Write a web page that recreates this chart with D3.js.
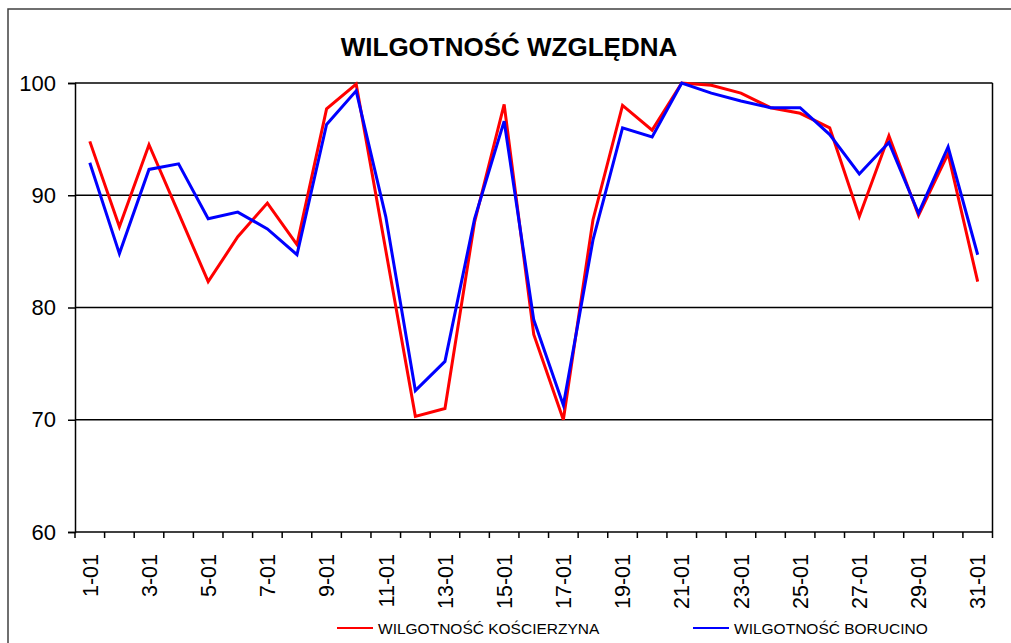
<!DOCTYPE html>
<html>
<head>
<meta charset="utf-8">
<script src="https://cdn.jsdelivr.net/npm/d3@7"></script>
<style>
  body { margin: 0; background: #fff; }
  svg { display: block; font-family: "Liberation Sans", Arial, sans-serif; }
</style>
</head>
<body>
<svg id="chart" width="1011" height="643"></svg>
<script>
// dane: wilgotnosc wzgledna, styczen
const days = ["1-01","2-01","3-01","4-01","5-01","6-01","7-01","8-01","9-01","10-01",
  "11-01","12-01","13-01","14-01","15-01","16-01","17-01","18-01","19-01","20-01",
  "21-01","22-01","23-01","24-01","25-01","26-01","27-01","28-01","29-01","30-01","31-01"];

const koscierzyna = [94.8, 87.2, 94.5, 88.4, 82.3, 86.3, 89.3, 85.6, 97.7, 99.9,
  85.1, 70.3, 71.0, 87.6, 98.1, 77.6, 70.0, 87.8, 98.0, 95.8,
  100.0, 99.8, 99.1, 97.8, 97.3, 96.0, 88.1, 95.3, 88.2, 93.7, 82.3];

const borucino = [92.9, 84.8, 92.3, 92.8, 87.9, 88.5, 87.0, 84.7, 96.3, 99.3,
  88.1, 72.6, 75.2, 87.9, 96.6, 78.9, 71.3, 86.0, 96.0, 95.2,
  100.0, 99.1, 98.4, 97.8, 97.8, 95.4, 91.9, 94.7, 88.4, 94.3, 84.7];

const yTicks = [60, 70, 80, 90, 100];
const seriesNames = ["WILGOTNOŚĆ KOŚCIERZYNA", "WILGOTNOŚĆ BORUCINO"];
const seriesColors = ["#ff0000", "#0000ff"];

const svg = d3.select("#chart");
const plot = { left: 75, right: 992.5, top: 83, bottom: 532 };

// ramka wykresu
svg.append("rect")
  .attr("x", 8).attr("y", 9)
  .attr("width", 1020).attr("height", 660)
  .attr("fill", "#fff")
  .attr("stroke", "#404040")
  .attr("stroke-width", 1.5);

// tytul
svg.append("text")
  .attr("x", 509).attr("y", 56)
  .attr("text-anchor", "middle")
  .attr("font-size", "26px")
  .attr("font-weight", "bold")
  .text("WILGOTNOŚĆ WZGLĘDNA");

const x = d3.scaleBand()
  .domain(days)
  .range([plot.left, plot.right])
  .padding(0);

const y = d3.scaleLinear()
  .domain([60, 100])
  .range([plot.bottom, plot.top]);

// linie siatki
svg.append("g")
  .selectAll("line")
  .data(yTicks.filter(d => d > 60))
  .join("line")
    .attr("x1", plot.left).attr("x2", plot.right)
    .attr("y1", d => y(d)).attr("y2", d => y(d))
    .attr("stroke", "#000")
    .attr("stroke-width", 1.5);

// prawa krawedz obszaru
svg.append("line")
  .attr("x1", plot.right).attr("x2", plot.right)
  .attr("y1", plot.top).attr("y2", plot.bottom)
  .attr("stroke", "#000").attr("stroke-width", 1.5);

// os Y
const yAxis = svg.append("g")
  .attr("transform", `translate(${plot.left},0)`)
  .call(d3.axisLeft(y).tickValues(yTicks).tickSize(7).tickPadding(12));
yAxis.select(".domain").attr("stroke", "#000").attr("stroke-width", 1.5);
yAxis.selectAll(".tick line").attr("stroke", "#000").attr("stroke-width", 1.5);
yAxis.selectAll(".tick text")
  .attr("font-size", "22px")
  .attr("font-family", "Liberation Sans, Arial, sans-serif")
  .attr("fill", "#000");

// os X - znaczniki miedzy kategoriami
const xAxis = svg.append("g");
xAxis.append("line")
  .attr("x1", plot.left).attr("x2", plot.right)
  .attr("y1", plot.bottom).attr("y2", plot.bottom)
  .attr("stroke", "#000").attr("stroke-width", 1.5);

const edges = days.map(d => x(d)).concat([x.range()[1]]);
xAxis.selectAll("line.tick")
  .data(edges)
  .join("line")
    .attr("class", "tick")
    .attr("x1", d => d).attr("x2", d => d)
    .attr("y1", plot.bottom).attr("y2", plot.bottom + 6)
    .attr("stroke", "#000").attr("stroke-width", 1.5);

xAxis.selectAll("text")
  .data(days.filter((d, i) => i % 2 === 0))
  .join("text")
    .attr("transform", d => `translate(${x(d) + x.bandwidth() / 2},${plot.bottom + 22}) rotate(-90)`)
    .attr("text-anchor", "end")
    .attr("dy", "0.36em")
    .attr("font-size", "21.5px")
    .text(d => d);

// serie
const line = d3.line()
  .x((d, i) => x(days[i]) + x.bandwidth() / 2)
  .y(d => y(d));

[koscierzyna, borucino].forEach((vals, k) => {
  svg.append("path")
    .datum(vals)
    .attr("fill", "none")
    .attr("stroke", seriesColors[k])
    .attr("stroke-width", 3)
    .attr("stroke-linejoin", "miter")
    .attr("d", line);
});

// legenda
const legendX = [337, 693];
seriesNames.forEach((name, k) => {
  const lg = svg.append("g").attr("transform", `translate(${legendX[k]},628)`);
  lg.append("line")
    .attr("x1", 0).attr("x2", 36)
    .attr("y1", 0).attr("y2", 0)
    .attr("stroke", seriesColors[k])
    .attr("stroke-width", 2);
  lg.append("text")
    .attr("x", 41).attr("y", 0)
    .attr("dy", "0.36em")
    .attr("font-size", "15.5px")
    .text(name);
});
</script>
</body>
</html>
